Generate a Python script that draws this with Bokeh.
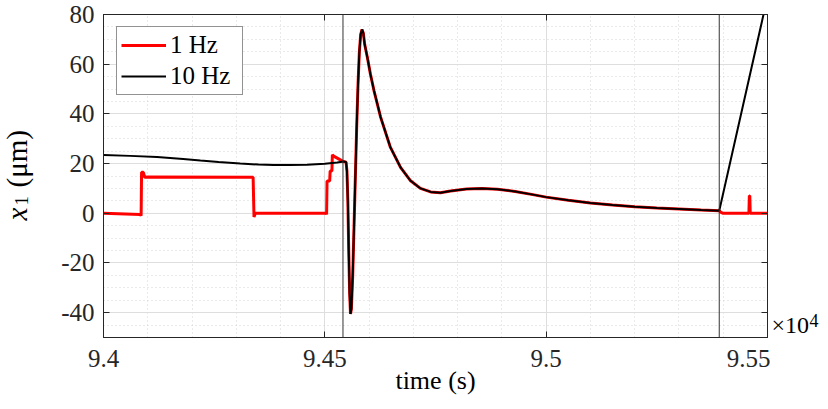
import numpy as np
from bokeh.plotting import figure
from bokeh.layouts import row
from bokeh.models import (Range1d, FixedTicker, LinearAxis, Span, Label, Legend, LegendItem)
from bokeh.embed import file_html
from bokeh.resources import INLINE

# ---------------- data ----------------
# 10 Hz series (black)
t10 = [94000, 94060, 94121, 94180, 94219, 94260, 94309, 94350, 94384, 94420,
       94460, 94500, 94528, 94542, 94548, 94550, 94552, 94554, 94556, 94558,
       94560, 94563, 94566, 94569, 94572, 94575, 94578, 94581, 94584, 94587,
       94590, 94596, 94603, 94611, 94626, 94648, 94671, 94693, 94716, 94739,
       94761, 94784, 94820, 94855, 94890, 94930, 94970, 95000, 95050, 95100,
       95150, 95200, 95250, 95300, 95350, 95391, 95491]
v10 = [23.5, 23.1, 22.6, 21.8, 21.2, 20.6, 20.0, 19.6, 19.4, 19.4,
       19.5, 19.9, 20.4, 20.8, 20.6, 17.0, 5.0, -15.0, -32.0, -40.5,
       -38.5, -25.0, -5.0, 15.0, 35.0, 52.0, 65.0, 72.0, 74.0, 72.5,
       68.0, 62.8, 56.0, 49.4, 38.7, 26.6, 18.5, 13.2, 10.0, 8.6,
       8.3, 9.0, 9.8, 10.0, 9.7, 8.8, 7.5, 6.5, 5.2, 4.1,
       3.3, 2.6, 2.1, 1.7, 1.3, 1.0, 80.0]

# 1 Hz series (red): own segments before and after the shared response
t1_head = [94000, 94083, 94085, 94086, 94090, 94093, 94100, 94338, 94340, 94343,
           94503, 94504, 94505, 94511, 94512, 94516, 94517, 94520, 94524, 94530,
           94540]
v1_head = [0.0, -0.5, -1.0, 16.5, 16.5, 14.5, 14.6, 14.5, -1.5, 0.0,
           0.0, -0.5, 13.0, 13.0, 17.0, 17.0, 23.5, 23.0, 22.6, 22.0,
           21.0]
t1_tail = [95395, 95400, 95458, 95459, 95460, 95461, 95500]
v1_tail = [0.4, 0.0, 0.0, 7.0, 7.0, 0.0, 0.0]

event_times = [94541, 95391]

x_major = [94000, 94500, 95000, 95500]
x_labels = ["9.4", "9.45", "9.5", "9.55"]
x_minor = [94100, 94200, 94300, 94400, 94600, 94700, 94800, 94900,
           95100, 95200, 95300, 95400]
y_major = [-40, -20, 0, 20, 40, 60, 80]
y_labels = ["-40", "-20", "0", "20", "40", "60", "80"]
y_minor = [-50, -45, -35, -30, -25, -15, -10, -5, 5, 10, 15, 25, 30, 35,
           45, 50, 55, 65, 70, 75]

shared = [(t, v) for t, v in zip(t10, v10) if 94548 <= t <= 95391]
t1 = t1_head + [s[0] for s in shared] + t1_tail
v1 = v1_head + [s[1] for s in shared] + v1_tail

# ---------------- figure ----------------
FONT = "'Liberation Serif', serif"
AX = "#262626"
H = 409
WL, WR = 50, 58
WM = 828 - WL - WR

p = figure(width=WM, height=H, output_backend="svg", toolbar_location=None,
           x_range=Range1d(94000, 95500), y_range=Range1d(-50, 80),
           min_border_left=53, min_border_right=3, min_border_top=14,
           min_border_bottom=72)
p.outline_line_color = AX
p.outline_line_width = 1

xt = FixedTicker(ticks=x_major, minor_ticks=x_minor)
yt = FixedTicker(ticks=y_major, minor_ticks=y_minor)
p.xaxis.ticker = xt
p.yaxis.ticker = yt
p.xaxis.major_label_overrides = {float(k): s for k, s in zip(x_major, x_labels)}
p.yaxis.major_label_overrides = {float(k): s for k, s in zip(y_major, y_labels)}

for ax in [p.xaxis[0], p.yaxis[0]]:
    ax.major_label_text_font = FONT
    ax.major_label_text_font_size = "25px"
    ax.major_label_text_color = AX
    ax.axis_line_color = AX
    ax.major_tick_line_color = AX
    ax.major_tick_in = 6
    ax.major_tick_out = 0
    ax.minor_tick_in = 0
    ax.minor_tick_out = 0
p.xaxis.major_label_standoff = 12
p.yaxis.major_label_standoff = 9

p.xaxis.axis_label = "time (s)"
p.xaxis.axis_label_text_font = FONT
p.xaxis.axis_label_text_font_size = "26px"
p.xaxis.axis_label_text_font_style = "normal"
p.xaxis.axis_label_text_color = "#000000"
p.xaxis.axis_label_standoff = -4

top = LinearAxis(ticker=xt, major_label_overrides={float(k): "" for k in x_major})
right = LinearAxis(ticker=yt, major_label_overrides={float(k): "" for k in y_major})
for ax in [top, right]:
    ax.axis_line_color = AX
    ax.major_tick_line_color = AX
    ax.major_tick_in = 6
    ax.major_tick_out = 0
    ax.minor_tick_in = 0
    ax.minor_tick_out = 0
    ax.major_label_standoff = 0
p.add_layout(top, "above")
p.add_layout(right, "right")

for g in [p.xgrid[0], p.ygrid[0]]:
    g.grid_line_color = "#dedede"
    g.grid_line_width = 1
    g.minor_grid_line_color = "#d4d4d4"
    g.minor_grid_line_dash = "1 3"
    g.minor_grid_line_width = 1

for t in event_times:
    p.add_layout(Span(location=t, dimension="height", line_color="#333333", line_width=1))

r1 = p.line(t1, v1, line_color="#ff0000", line_width=3)
r10 = p.line(t10, v10, line_color="black", line_width=2)

legend = Legend(items=[LegendItem(label="1 Hz", renderers=[r1]),
                       LegendItem(label="10 Hz", renderers=[r10])],
                location=(13, 242), margin=0, padding=4, spacing=3,
                glyph_width=45, glyph_height=28, label_height=28, label_width=68,
                label_standoff=4,
                label_text_font=FONT, label_text_font_size="25px",
                label_text_color="#000000",
                border_line_color=AX, border_line_width=1,
                background_fill_color="white", background_fill_alpha=1.0)
p.add_layout(legend)


def side_fig(w):
    f = figure(width=w, height=H, output_backend="svg", toolbar_location=None,
               x_range=Range1d(0, w), y_range=Range1d(0, H), min_border=0,
               x_axis_location=None, y_axis_location=None)
    f.outline_line_color = None
    f.grid.visible = False
    return f


def lab(f, text, x, y, size, style="normal", angle=0.0):
    # x, y in canvas pixels of the side figure (y measured from the top)
    f.add_layout(Label(x=x, y=y, x_units="canvas", y_units="canvas", text=text,
                       text_font=FONT, text_font_size=size,
                       text_font_style=style, text_color="#000000", angle=angle,
                       text_align="left", text_baseline="alphabetic"))


# y-axis label  x_1 (μm)
fl = side_fig(WL)
lab(fl, "x", 16, 220, "29px", style="italic", angle=np.pi / 2)
lab(fl, "1", 21, 205, "19px", angle=np.pi / 2)
lab(fl, "(μm)", 16, 187, "29px", angle=np.pi / 2)

# exponent label  ×10^4
fr = side_fig(WR)
lab(fr, "×10", 1, 324, "24px")
lab(fr, "4", 39, 320, "18px")

layout = row(fl, p, fr)
open("out.html", "w").write(file_html(layout, INLINE))
